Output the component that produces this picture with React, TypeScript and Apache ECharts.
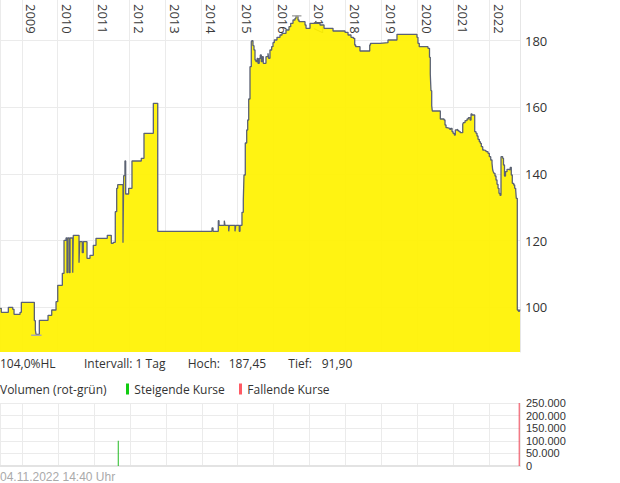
import React, { useEffect, useRef } from "react";
import * as echarts from "echarts";

// ---- data (decimal year, value) ----
const pricePoints: [number, number][] = [
  [2008.397, 99.7], [2008.433, 98.5], [2008.628, 100.0], [2008.75, 99.4], [2008.786, 97.9],
  [2008.953, 98.5], [2008.989, 101.5], [2009.35, 96.0], [2009.378, 93.2], [2009.397, 91.9],
  [2009.489, 96.1], [2009.731, 97.6], [2009.833, 99.2], [2009.953, 101.7], [2010.0, 106.6],
  [2010.128, 110.2], [2010.175, 120.1], [2010.231, 120.8], [2010.258, 110.4], [2010.278, 120.8],
  [2010.322, 110.4], [2010.342, 120.8], [2010.417, 110.4], [2010.433, 121.6], [2010.592, 113.4],
  [2010.611, 119.7], [2010.683, 116.4], [2010.711, 119.7], [2010.814, 114.7], [2010.897, 115.6],
  [2010.989, 118.6], [2011.064, 120.7], [2011.378, 121.6], [2011.489, 119.2], [2011.544, 119.5],
  [2011.6, 128.7], [2011.639, 135.7], [2011.667, 136.8], [2011.814, 119.4], [2011.833, 139.5],
  [2011.869, 143.9], [2011.889, 134.0], [2011.972, 135.7], [2012.064, 143.9], [2012.322, 144.7],
  [2012.397, 152.2], [2012.656, 161.2], [2012.778, 122.8], [2014.286, 123.8], [2014.314, 122.8],
  [2014.461, 126.0], [2014.481, 124.6], [2014.628, 126.0], [2014.647, 124.6], [2014.75, 122.8],
  [2014.767, 124.6], [2014.925, 122.8], [2014.944, 124.6], [2015.044, 122.8], [2015.064, 124.6],
  [2015.119, 128.5], [2015.156, 132.2], [2015.175, 139.7], [2015.211, 149.3], [2015.25, 153.2],
  [2015.278, 156.2], [2015.306, 162.5], [2015.342, 172.2], [2015.378, 179.7], [2015.397, 180.0],
  [2015.425, 178.5], [2015.453, 177.2], [2015.481, 174.2], [2015.508, 173.7], [2015.544, 174.7],
  [2015.564, 173.2], [2015.6, 174.7], [2015.628, 175.7], [2015.656, 173.7], [2015.683, 175.2],
  [2015.711, 173.2], [2015.786, 175.2], [2015.842, 176.2], [2015.861, 174.7], [2015.897, 177.2],
  [2015.944, 178.2], [2015.981, 179.4], [2016.017, 180.2], [2016.092, 181.0], [2016.175, 181.7],
  [2016.231, 182.2], [2016.342, 183.2], [2016.425, 184.2], [2016.472, 185.2], [2016.536, 186.2],
  [2016.592, 186.7], [2016.619, 187.45], [2016.675, 186.2], [2016.703, 185.7], [2016.869, 184.7],
  [2016.897, 183.7], [2017.008, 185.2], [2017.167, 185.9], [2017.183, 185.2], [2017.286, 184.7],
  [2017.397, 183.7], [2017.647, 182.9], [2017.981, 182.5], [2018.064, 181.7], [2018.147, 181.0],
  [2018.211, 180.7], [2018.25, 178.7], [2018.278, 178.2], [2018.397, 176.9], [2018.667, 178.7],
  [2018.689, 179.2], [2018.953, 179.4], [2019.175, 180.2], [2019.425, 181.9], [2019.981, 181.0],
  [2020.008, 179.2], [2020.044, 178.2], [2020.286, 177.7], [2020.328, 175.0], [2020.35, 170.0],
  [2020.369, 165.0], [2020.389, 160.5], [2020.406, 158.9], [2020.628, 156.5], [2020.731, 156.2],
  [2020.758, 154.7], [2020.786, 153.9], [2020.814, 153.7], [2020.889, 153.4], [2020.917, 153.7],
  [2020.953, 152.7], [2020.981, 152.2], [2021.017, 151.7], [2021.044, 153.2], [2021.072, 153.4],
  [2021.111, 153.0], [2021.147, 152.7], [2021.183, 152.4], [2021.25, 154.9], [2021.267, 155.4],
  [2021.314, 156.0], [2021.369, 156.5], [2021.406, 156.9], [2021.453, 156.2], [2021.481, 158.0],
  [2021.508, 157.7], [2021.583, 152.7], [2021.619, 152.2], [2021.647, 151.4], [2021.675, 150.4],
  [2021.711, 149.7], [2021.739, 149.2], [2021.767, 148.2], [2021.806, 147.2], [2021.842, 147.0],
  [2021.897, 146.7], [2021.953, 146.2], [2021.989, 145.2], [2022.028, 144.2], [2022.064, 143.2],
  [2022.083, 141.2], [2022.1, 140.7], [2022.119, 140.2], [2022.147, 139.4], [2022.175, 138.2],
  [2022.203, 136.9], [2022.231, 135.7], [2022.258, 134.2], [2022.286, 133.6], [2022.314, 145.2],
  [2022.361, 144.7], [2022.383, 142.7], [2022.411, 139.4], [2022.439, 140.7], [2022.481, 141.4],
  [2022.544, 141.2], [2022.572, 142.0], [2022.6, 139.7], [2022.628, 137.2], [2022.667, 136.7],
  [2022.694, 135.7], [2022.722, 135.2], [2022.739, 132.7], [2022.767, 99.2], [2022.8, 98.8],
  [2022.828, 99.3], [2022.842, 99.0],
];
const highMarker: [number, number][] = [[2016.51, 187.45], [2016.77, 187.45]];
const lowMarker: [number, number][] = [[2009.26, 91.6], [2009.55, 91.6]];
const volumeUp: [number, number][] = [[2011.675, 100000]];
const volumeDown: [number, number][] = [[2022.834, 250000]];
const xRange: [number, number] = [2008.397, 2022.842];
const priceRange: [number, number] = [86.6, 192.2];
const volumeRange: [number, number] = [0, 250000];
const volumeStep = 50000;

const infoTexts = ["104,0%HL", "Intervall: 1 Tag", "Hoch:", "187,45", "Tief:", "91,90"];
const legendTexts = ["Volumen (rot-grün)", "Steigende Kurse", "Fallende Kurse"];
const timestampText = "04.11.2022 14:40 Uhr";

function toTime(d: number): number {
  const y = Math.floor(d);
  const a = new Date(y, 0, 1).getTime();
  const b = new Date(y + 1, 0, 1).getTime();
  return a + (d - y) * (b - a);
}
const conv = (arr: [number, number][]) => arr.map(([d, v]) => [toTime(d), v]);
const fmtDE = (v: number) => String(v).replace(/\B(?=(\d{3})+(?!\d))/g, ".");

const YEAR = 365.25 * 24 * 3600 * 1000;
const GRID_COLOR = "#ebebeb";
const TEXT_FONT = "12px 'Open Sans', sans-serif";

export default function App() {
  const ref = useRef<HTMLDivElement>(null);
  useEffect(() => {
    if (!ref.current) return;
    const chart = echarts.init(ref.current, undefined, { renderer: "svg" });
    const xMin = toTime(xRange[0]);
    const xMax = toTime(xRange[1]);
    const row1 = 363;
    const row2 = 389;
    const infoX = [0, 84, 187.7, 228.7, 288.3, 321.7];
    const txt = (text: string, x: number, y: number, font = TEXT_FONT, fill = "#333") => ({
      type: "text",
      x,
      y,
      style: { text, x: 0, y: 0, fill, font, verticalAlign: "middle", align: "left" },
    });
    const option: any = {
      animation: false,
      backgroundColor: "#fff",
      grid: [
        { left: 0, top: 0, width: 520, height: 352 },
        { left: 0, top: 403, width: 520, height: 63 },
      ],
      xAxis: [
        {
          type: "time",
          gridIndex: 0,
          position: "top",
          min: xMin,
          max: xMax,
          splitNumber: 14,
          minInterval: YEAR * 0.99,
          maxInterval: YEAR * 1.01,
          axisLine: { show: false },
          axisTick: { show: false },
          axisLabel: {
            inside: true,
            rotate: 90,
            margin: 4,
            formatter: "{yyyy}",
            color: "#3a3a3a",
            fontSize: 13,
            fontFamily: "'Open Sans', sans-serif",
            verticalAlign: "bottom",
            lineHeight: 19,
            showMinLabel: false,
            showMaxLabel: false,
            hideOverlap: false,
          },
          splitLine: { show: true, lineStyle: { color: GRID_COLOR, width: 1 } },
        },
        {
          type: "time",
          gridIndex: 1,
          position: "bottom",
          min: xMin,
          max: xMax,
          splitNumber: 14,
          minInterval: YEAR * 0.99,
          maxInterval: YEAR * 1.01,
          axisLine: { show: true, lineStyle: { color: "#e3e3e3", width: 2 } },
          axisTick: { show: false },
          axisLabel: { show: false },
          splitLine: { show: true, lineStyle: { color: GRID_COLOR, width: 1 } },
        },
      ],
      yAxis: [
        {
          type: "value",
          gridIndex: 0,
          position: "right",
          min: priceRange[0],
          max: priceRange[1],
          splitNumber: 5,
          axisLine: { show: true, lineStyle: { color: "#e6e6e6" } },
          axisTick: { show: false },
          axisLabel: {
            margin: 5,
            color: "#333",
            fontSize: 13,
            fontFamily: "'Open Sans', sans-serif",
            showMinLabel: false,
            showMaxLabel: false,
          },
          splitLine: {
            show: true,
            showMinLine: false,
            showMaxLine: false,
            lineStyle: { color: GRID_COLOR },
          },
        },
        {
          type: "value",
          gridIndex: 1,
          position: "right",
          min: volumeRange[0],
          max: volumeRange[1],
          interval: volumeStep,
          axisLine: { show: false },
          axisTick: { show: false },
          axisLabel: {
            margin: 6,
            color: "#333",
            fontSize: 11,
            fontFamily: "'Liberation Sans', Arial, sans-serif",
            formatter: (v: number) => fmtDE(v),
          },
          splitLine: { show: true, lineStyle: { color: GRID_COLOR } },
        },
      ],
      series: [
        {
          type: "line",
          xAxisIndex: 0,
          yAxisIndex: 0,
          data: conv(pricePoints),
          step: "end",
          showSymbol: false,
          symbol: "none",
          lineStyle: { color: "#5b6274", width: 1.3 },
          areaStyle: { color: "#fff200", opacity: 0.93, origin: "start" },
        },
        {
          type: "line",
          xAxisIndex: 0,
          yAxisIndex: 0,
          data: conv(highMarker),
          symbol: "none",
          lineStyle: { color: "#aaaaaa", width: 1.5 },
        },
        {
          type: "line",
          xAxisIndex: 0,
          yAxisIndex: 0,
          data: conv(lowMarker),
          symbol: "none",
          lineStyle: { color: "#aaaaaa", width: 1.5 },
        },
        {
          type: "bar",
          xAxisIndex: 1,
          yAxisIndex: 1,
          data: conv(volumeUp),
          barWidth: 1,
          itemStyle: { color: "#22bb22" },
        },
        {
          type: "bar",
          xAxisIndex: 1,
          yAxisIndex: 1,
          data: conv(volumeDown),
          barWidth: 1,
          barGap: "-100%",
          z: 10,
          itemStyle: { color: "#ee4455" },
        },
      ],
      graphic: [
        ...infoTexts.map((t, i) => txt(t, infoX[i], row1)),
        txt(legendTexts[0], 0, row2),
        { type: "rect", shape: { x: 126, y: 383.5, width: 3, height: 11 }, style: { fill: "#11cc11" } },
        txt(legendTexts[1], 134.3, row2),
        { type: "rect", shape: { x: 239, y: 383.5, width: 3, height: 11 }, style: { fill: "#ff5a64" } },
        txt(legendTexts[2], 247.3, row2),
        txt(timestampText, 0, 476.5, "12px 'Liberation Sans', Arial, sans-serif", "#aaaaaa"),
      ],
    };
    chart.setOption(option);
    return () => chart.dispose();
  }, []);
  return (
    <div
      ref={ref}
      style={{ position: "absolute", left: 0, top: 0, width: 620, height: 483, background: "#fff" }}
    />
  );
}
